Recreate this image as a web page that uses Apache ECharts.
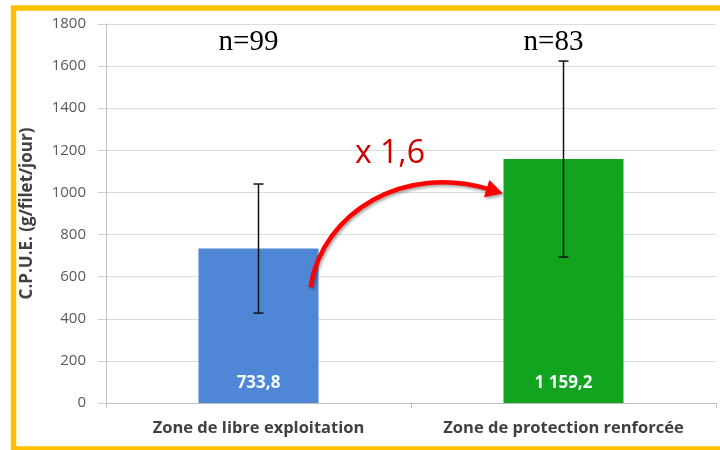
<!DOCTYPE html>
<html>
<head>
<meta charset="utf-8">
<script src="https://cdn.jsdelivr.net/npm/echarts@6/dist/echarts.min.js"></script>
<style>html,body{margin:0;padding:0;background:#fff;}#c{width:720px;height:450px;}</style>
</head>
<body>
<div id="c"></div>
<script>
const categories = ['Zone de libre exploitation', 'Zone de protection renforcée'];
const values = [733.8, 1159.2];
const valueLabels = ['733,8', '1 159,2'];
const errLow = [427, 693];
const errHigh = [1040, 1624];
const nLabels = ['n=99', 'n=83'];
const nLevel = 1715;
const yTicks = [0, 200, 400, 600, 800, 1000, 1200, 1400, 1600, 1800];
const barColors = ['#4f86d5', '#12a41f'];
const ratioText = 'x 1,6';

const chart = echarts.init(document.getElementById('c'), null, {renderer: 'canvas'});
const option = {
  backgroundColor: '#fff',
  animation: false,
  grid: {left: 106, right: 4, top: 24, bottom: 47},
  xAxis: {
    type: 'category',
    data: categories,
    axisLine: {lineStyle: {color: '#bfbfbf', width: 1}},
    axisTick: {show: true, length: 5, lineStyle: {color: '#bfbfbf'}},
    axisLabel: {interval: 0, color: '#404040', fontWeight: 'bold', fontSize: 16.5, fontFamily: 'Open Sans', margin: 17}
  },
  yAxis: {
    type: 'value',
    min: yTicks[0], max: yTicks[yTicks.length - 1], interval: 200,
    name: 'C.P.U.E. (g/filet/jour)',
    nameLocation: 'middle',
    nameRotate: 90,
    nameGap: 70,
    nameTextStyle: {color: '#404040', fontWeight: 'bold', fontSize: 17, fontFamily: 'Open Sans'},
    axisLine: {show: true, lineStyle: {color: '#bfbfbf', width: 1}},
    axisTick: {show: true, length: 8, lineStyle: {color: '#d0d0d0'}},
    axisLabel: {color: '#595959', fontSize: 15, fontFamily: 'Open Sans', margin: 20, formatter: v => String(v)},
    splitLine: {lineStyle: {color: '#dcdcdc', width: 1}}
  },
  series: [
    {
      type: 'bar',
      barWidth: 120,
      data: values.map((v, i) => ({value: v, itemStyle: {color: barColors[i]}})),
      label: {
        show: true, position: 'insideBottom', distance: 11,
        color: '#f4fbff', fontWeight: 'bold', fontSize: 17, fontFamily: 'Open Sans',
        formatter: p => valueLabels[p.dataIndex]
      }
    },
    {
      type: 'custom',
      data: categories.map((c, i) => [i, errLow[i], errHigh[i]]),
      renderItem: function (params, api) {
        const lo = api.coord([api.value(0), api.value(1)]);
        const hi = api.coord([api.value(0), api.value(2)]);
        const w = 5;
        const st = {stroke: '#111', lineWidth: 1.5};
        return {type: 'group', children: [
          {type: 'line', shape: {x1: hi[0], y1: hi[1], x2: lo[0], y2: lo[1]}, style: st},
          {type: 'line', shape: {x1: hi[0] - w, y1: hi[1], x2: hi[0] + w, y2: hi[1]}, style: st},
          {type: 'line', shape: {x1: lo[0] - w, y1: lo[1], x2: lo[0] + w, y2: lo[1]}, style: st}
        ]};
      },
      z: 5
    },
    {
      type: 'custom',
      data: categories.map((c, i) => [i, nLevel]),
      renderItem: function (params, api) {
        const p = api.coord([api.value(0), api.value(1)]);
        return {type: 'text', x: p[0] - 10, y: p[1], style: {
          text: nLabels[params.dataIndex], fill: '#000', font: '29px "Liberation Serif"',
          textAlign: 'center', textVerticalAlign: 'middle'
        }};
      },
      z: 5
    }
  ]
};
chart.setOption(option);

// annotation arrow, anchored on the bars
const pA = chart.convertToPixel({gridIndex: 0}, [0, 550]);
const pB = chart.convertToPixel({gridIndex: 0}, [1, 1000]);
const P0 = [pA[0] + 52, pA[1]];
const P3 = [pB[0] - 74, pB[1] - 3];
const C1 = [P0[0] + 12, P0[1] - 76];
const C2 = [P0[0] + 95, P0[1] - 124];
let dx = P3[0] - C2[0], dy = P3[1] - C2[1];
const L = Math.hypot(dx, dy); dx /= L; dy /= L;
const tip = [P3[0] + dx * 14, P3[1] + dy * 14];
const base = [P3[0] - dx * 3, P3[1] - dy * 3];
const nx = -dy, ny = dx;
const shadow = {shadowBlur: 3, shadowColor: 'rgba(0,0,0,0.35)', shadowOffsetX: 1.5, shadowOffsetY: 2};
chart.setOption({
  graphic: [
    {type: 'rect', shape: {x: 13.5, y: 8, width: 730, height: 441}, style: {fill: 'none', stroke: '#ffc000', lineWidth: 5.5}, z: 100},
    {type: 'bezierCurve', shape: {x1: P0[0], y1: P0[1], cpx1: C1[0], cpy1: C1[1], cpx2: C2[0], cpy2: C2[1], x2: P3[0], y2: P3[1]},
      style: Object.assign({stroke: '#ff0000', lineWidth: 4.5, fill: 'none'}, shadow), z: 50},
    {type: 'polygon', shape: {points: [tip, [base[0] + nx * 9, base[1] + ny * 9], [base[0] - nx * 9, base[1] - ny * 9]]},
      style: Object.assign({fill: '#ff0000'}, shadow), z: 50},
    {type: 'text', x: 355, y: 154, style: {text: ratioText, fill: '#d00000', font: '32px "Open Sans"', textVerticalAlign: 'middle'}, z: 50}
  ]
});
</script>
</body>
</html>
